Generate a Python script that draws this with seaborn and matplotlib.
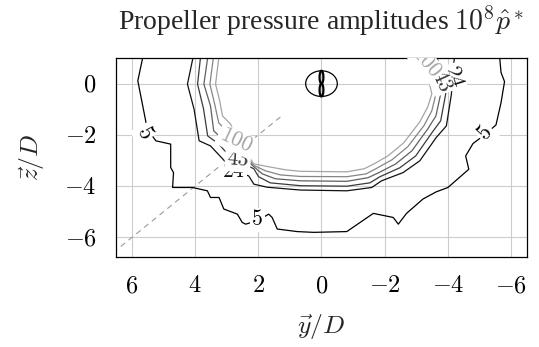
import numpy as np
import pandas as pd
import matplotlib
matplotlib.use("Agg")
import matplotlib.pyplot as plt
import seaborn as sns
from matplotlib.patches import Ellipse

# ---------------- data ----------------
levels = [5, 24, 43, 62, 81, 100]
level_colors = ["#000000", "#111111", "#3a3a3a", "#606060", "#858585", "#a5a5a5"]

x_ticks = [6, 4, 2, 0, -2, -4, -6]
y_ticks = [0, -2, -4, -6]

# contour paths (y/D, z/D)
y5 = [5.64, 5.81, 5.55, 5.40, 5.24, 4.77, 4.77, 4.68, 4.71, 4.08, 3.61, 3.51, 3.24, 3.09,
      2.66, 2.51, 2.40, 2.03, 1.67, 1.56, 1.40, 0.77, 0.25, -0.80, -1.64, -2.27, -2.43,
      -2.69, -3.21, -3.63, -4.00, -4.66, -4.56, -4.79, -4.94, -5.21, -5.52, -5.68, -5.79,
      -5.68, -5.63]
z5 = [1.10, 0.11, -1.52, -1.95, -2.23, -2.36, -3.27, -3.47, -4.05, -4.05, -4.18, -4.44,
      -4.44, -4.89, -5.09, -5.41, -5.48, -5.35, -5.09, -5.22, -5.67, -5.77, -5.80, -5.77,
      -5.06, -5.22, -5.48, -5.06, -4.50, -4.22, -4.05, -3.34, -2.82, -2.34, -2.20, -1.95,
      -1.61, -0.74, 0.08, 0.43, 1.10]

y24 = [4.05, 4.24, 4.03, 3.87, 3.51, 3.13, 2.78, 2.30, 2.14, 1.72, 0.67, -0.80, -1.59,
       -1.90, -2.58, -3.11, -3.63, -3.95, -4.11, -4.15, -4.21]
z24 = [1.10, -0.02, -1.00, -2.23, -2.43, -2.93, -3.40, -3.60, -3.92, -4.04, -4.15, -4.18,
       -4.05, -3.79, -3.47, -3.01, -2.10, -1.65, -0.41, 0.30, 1.10]

y43 = [3.82, 3.92, 3.73, 3.60, 3.25, 3.06, 2.65, 2.14, 1.99, 1.62, 0.67, -0.80, -1.53,
       -1.85, -2.48, -2.98, -3.49, -3.77, -3.93, -3.85, -3.64]
z43 = [1.10, -0.02, -0.99, -2.04, -2.35, -2.62, -3.01, -3.32, -3.63, -3.87, -3.98, -4.00,
       -3.87, -3.63, -3.28, -2.82, -1.92, -1.45, -0.40, 0.10, 1.10]

y62 = [3.59, 3.72, 3.51, 3.41, 3.13, 2.60, 2.14, 1.87, 1.46, 0.67, -0.80, -1.47, -1.80,
       -2.35, -2.86, -3.36, -3.62, -3.77, -3.68, -3.49]
z62 = [1.10, -0.02, -0.87, -1.84, -2.16, -2.70, -3.24, -3.52, -3.71, -3.79, -3.81, -3.67,
       -3.48, -3.13, -2.62, -1.77, -1.26, -0.40, 0.30, 1.10]

y81 = [3.41, 3.53, 3.38, 3.25, 3.00, 2.60, 2.14, 1.77, 1.30, 0.67, -0.80, -1.41, -1.72,
       -2.23, -2.73, -3.24, -3.49, -3.62, -3.49, -3.24]
z81 = [1.10, -0.02, -0.79, -1.53, -1.84, -2.50, -3.19, -3.40, -3.56, -3.62, -3.63, -3.52,
       -3.32, -2.97, -2.46, -1.64, -1.06, -0.40, 0.30, 1.10]

y100 = [3.24, 3.35, 3.22, 3.13, 2.88, 2.60, 2.14, 1.68, 1.14, 0.67, -0.80, -1.35, -1.66,
        -2.10, -2.60, -3.11, -3.36, -3.49, -3.36, -3.10]
z100 = [1.10, -0.02, -0.67, -1.26, -1.57, -2.30, -3.13, -3.24, -3.36, -3.42, -3.44, -3.32,
        -3.13, -2.82, -2.31, -1.49, -0.91, -0.40, 0.30, 1.10]

# contour labels: text, position, rotation
label_text = ["5", "5", "5", "24", "43", "100", "24", "43", "100"]
label_y = [5.62, 2.03, -5.21, 2.78, 2.65, 2.72, -4.15, -3.77, -3.30]
label_z = [-1.91, -5.32, -1.95, -3.48, -3.01, -2.23, 0.26, 0.10, 0.80]
label_rot = [-62, 0, 48, 0, -5, -25, -72, -65, -50]
label_level = [5, 5, 5, 24, 43, 100, 24, 43, 100]

# wake line (45 deg) endpoints
wake_y = [1.3, 6.8]
wake_z = [-1.3, -6.8]

# ---------------- build long table ----------------
paths = {5: (y5, z5), 24: (y24, z24), 43: (y43, z43), 62: (y62, z62),
         81: (y81, z81), 100: (y100, z100)}
rows = []
for lev, (ys, zs) in paths.items():
    for i, (a, b) in enumerate(zip(ys, zs)):
        rows.append({"level": lev, "order": i, "y": a, "z": b})
df = pd.DataFrame(rows)

# ---------------- style ----------------
sns.set_style("white")
plt.rcParams["font.family"] = ["Liberation Serif", "DejaVu Serif"]
plt.rcParams["mathtext.fontset"] = "cm"

fig = plt.figure(figsize=(5.39, 3.47), dpi=100)
ax = fig.add_axes([0.2152, 0.2602, 0.9777 - 0.2152, 0.8329 - 0.2602])

palette = dict(zip(levels, level_colors))
sns.lineplot(data=df, x="y", y="z", hue="level", units="level", estimator=None,
             sort=False, palette=palette, linewidth=0.9, legend=False, ax=ax, zorder=3)

sns.lineplot(x=wake_y, y=wake_z, color="#9a9a9a", linewidth=0.8, ax=ax, zorder=2,
             linestyle=(0, (5, 4)), sort=False, estimator=None)

# propeller
ax.add_patch(Ellipse((0, 0), 1.0, 1.0, fill=False, lw=0.9, ec="black", zorder=4))
ax.add_patch(Ellipse((0, 0.25), 0.12, 0.5, fill=False, lw=1.6, ec="black", zorder=4))
ax.add_patch(Ellipse((0, -0.25), 0.12, 0.5, fill=False, lw=1.6, ec="black", zorder=4))

for t, a, b, r, lev in zip(label_text, label_y, label_z, label_rot, label_level):
    ax.text(a, b, f"${t}$", rotation=r, rotation_mode="anchor", ha="center", va="center",
            fontsize=15.5, color=palette[lev], zorder=6, clip_on=True,
            bbox=dict(boxstyle="square,pad=0.08", fc="white", ec="none"))

ax.set_xlim(6.5, -6.5)
ax.set_ylim(-6.75, 1.0)
ax.set_xticks(x_ticks)
ax.set_xticklabels([f"${v}$" for v in x_ticks])
ax.set_yticks(y_ticks)
ax.set_yticklabels([f"${v}$" for v in y_ticks])
ax.grid(True, color="#cccccc", linewidth=0.8)
ax.set_axisbelow(True)
ax.tick_params(axis="both", direction="out", length=7, width=0.8, color="#b0b0b0",
               labelsize=17.5, pad=7, labelcolor="black")
for s in ax.spines.values():
    s.set_color("black")
    s.set_linewidth(0.9)
    s.set_zorder(5)

ax.set_xlabel(r"$\vec{y}/D$", fontsize=18.5, labelpad=11)
ax.set_ylabel(r"$\vec{z}/D$", fontsize=18.5, labelpad=12)
ax.set_title(r"Propeller pressure amplitudes $10^8\hat{p}^*$", fontsize=20, pad=20)

fig.savefig("out.png", dpi=100)
